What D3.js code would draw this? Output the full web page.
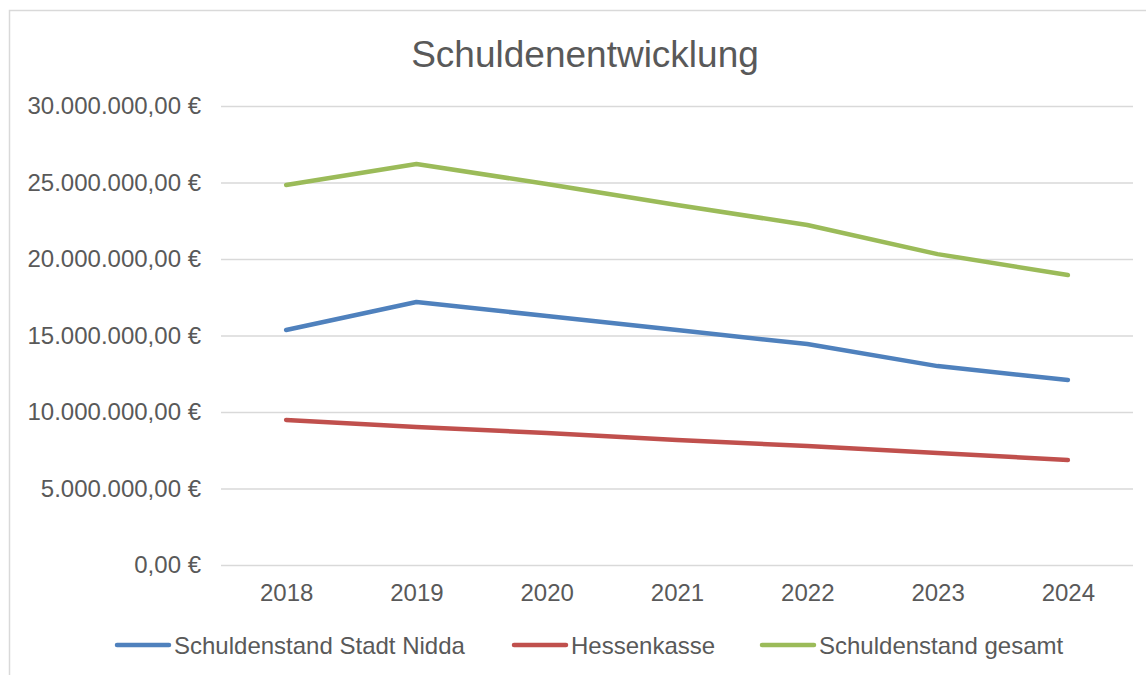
<!DOCTYPE html>
<html>
<head>
<meta charset="utf-8">
<script src="https://cdn.jsdelivr.net/npm/d3@7"></script>
<style>
  body { margin: 0; background: #fff; }
  text { font-family: "Liberation Sans", Arial, sans-serif; fill: #595959; }
</style>
</head>
<body>
<svg width="1146" height="675"></svg>
<script>
var years = ["2018", "2019", "2020", "2021", "2022", "2023", "2024"];
var stadtNidda = [15360000, 17190000, 16270000, 15360000, 14440000, 13000000, 12090000];
var hessenkasse = [9480000, 9020000, 8630000, 8170000, 7780000, 7320000, 6860000];
var gesamt = [24840000, 26210000, 24900000, 23530000, 22220000, 20320000, 18950000];
var seriesNames = ["Schuldenstand Stadt Nidda", "Hessenkasse", "Schuldenstand gesamt"];
var seriesColors = ["#4F81BD", "#C0504D", "#9BBB59"];
var yTicks = [0, 5000000, 10000000, 15000000, 20000000, 25000000, 30000000];

var svg = d3.select("svg");

// chart frame
svg.append("rect")
  .attr("x", 9.5).attr("y", 10.5)
  .attr("width", 1150).attr("height", 680)
  .attr("fill", "none")
  .attr("stroke", "#D9D9D9")
  .attr("stroke-width", 1.5);

svg.append("text")
  .attr("x", 585).attr("y", 67)
  .attr("text-anchor", "middle")
  .attr("font-size", 37)
  .text("Schuldenentwicklung");

var x = d3.scalePoint().domain(years).range([221, 1133]).padding(0.5);
var y = d3.scaleLinear().domain([0, 30000000]).range([565, 106]);

var fmt = function(v) {
  var s = d3.format(",.2f")(v);
  // deutsches Format: 1.000,00
  s = s.replace(/,/g, "#").replace(".", ",").replace(/#/g, ".");
  return s + " €";
};

var yAxis = svg.append("g")
  .attr("transform", "translate(221,0)")
  .call(d3.axisLeft(y).tickValues(yTicks).tickSize(-912).tickFormat(fmt).tickPadding(20));
yAxis.select(".domain").remove();
yAxis.selectAll(".tick line").attr("stroke", "#D9D9D9").attr("stroke-width", 1.5);
yAxis.selectAll(".tick text").attr("font-size", 24).attr("fill", "#595959")
  .attr("font-family", "Liberation Sans, Arial, sans-serif");

var xAxis = svg.append("g")
  .attr("transform", "translate(0,565)")
  .call(d3.axisBottom(x).tickSize(0).tickPadding(19));
xAxis.select(".domain").remove();
xAxis.selectAll(".tick text").attr("font-size", 24).attr("fill", "#595959")
  .attr("font-family", "Liberation Sans, Arial, sans-serif");

var allSeries = [stadtNidda, hessenkasse, gesamt];

var line = d3.line()
  .x(function(d, i) { return x(years[i]); })
  .y(function(d) { return y(d); });

svg.append("g").selectAll("path")
  .data(allSeries)
  .enter().append("path")
  .attr("d", line)
  .attr("fill", "none")
  .attr("stroke", function(d, i) { return seriesColors[i]; })
  .attr("stroke-width", 4.5)
  .attr("stroke-linecap", "round")
  .attr("stroke-linejoin", "round");

// legend
var legendX = [117, 514, 762];
var legend = svg.append("g").selectAll("g")
  .data(seriesNames)
  .enter().append("g")
  .attr("transform", function(d, i) { return "translate(" + legendX[i] + ",645)"; });

legend.append("line")
  .attr("x1", 0).attr("x2", 52)
  .attr("stroke", function(d, i) { return seriesColors[i]; })
  .attr("stroke-width", 4.5)
  .attr("stroke-linecap", "round");

legend.append("text")
  .attr("x", 57).attr("y", 8.5)
  .attr("font-size", 24)
  .text(function(d) { return d; });
</script>
</body>
</html>
